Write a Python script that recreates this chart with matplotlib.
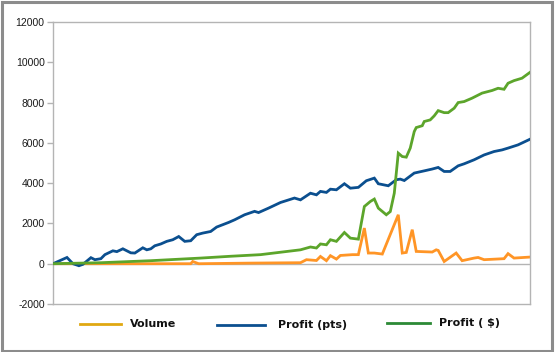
import matplotlib
matplotlib.use("Agg")
import matplotlib.pyplot as plt
from matplotlib.lines import Line2D
from matplotlib.patches import Rectangle

# Data (trade index, value)
pts_x = [0, 7, 10, 13, 15, 19, 21, 24, 26, 30, 32, 35, 39, 41, 45, 47, 49, 51, 54, 57, 60, 63, 66, 69,
         72, 75, 79, 82, 88, 91, 96, 101, 103, 108, 114, 121, 124, 129, 132, 134, 137, 139, 142, 146,
         149, 153, 157, 161, 163, 168, 172, 174, 176, 181, 186, 190, 193, 196, 199, 203, 206, 211,
         216, 221, 225, 228, 233, 239]
pts_y = [0, 310, 0, -100, -30, 300, 200, 250, 450, 640, 600, 740, 540, 530, 790, 690, 740, 890, 980,
         1110, 1190, 1350, 1110, 1140, 1440, 1520, 1600, 1820, 2050, 2180, 2430, 2600, 2540, 2760,
         3040, 3260, 3170, 3500, 3420, 3590, 3540, 3700, 3670, 3970, 3750, 3790, 4120, 4250, 3970,
         3870, 4170, 4200, 4130, 4500, 4610, 4700, 4780, 4580, 4580, 4860, 4960, 5160, 5400, 5570,
         5650, 5740, 5900, 6180]

usd_x = [0, 24, 49, 74, 89, 104, 124, 129, 132, 134, 137, 139, 142, 146, 149, 153, 156, 159, 161,
         163, 167, 169, 171, 173, 175, 177, 179, 181, 182, 185, 186, 189, 191, 193, 196, 198, 201,
         203, 206, 210, 215, 220, 223, 226, 228, 231, 235, 239]
usd_y = [0, 50, 150, 280, 370, 450, 690, 830, 780, 980, 940, 1190, 1110, 1550, 1270, 1220, 2840,
         3090, 3210, 2760, 2430, 2590, 3500, 5490, 5320, 5290, 5740, 6560, 6760, 6850, 7060, 7140,
         7340, 7600, 7500, 7500, 7720, 8000, 8050, 8220, 8470, 8600, 8710, 8660, 8960, 9090, 9210,
         9500]

vol_x = [0, 49, 69, 70, 73, 99, 124, 127, 132, 134, 137, 139, 142, 144, 150, 153, 156, 158, 161,
         165, 173, 175, 177, 180, 182, 190, 192, 193, 196, 202, 205, 211, 213, 216, 226, 228, 231,
         239]
vol_y = [0, 0, 0, 110, 0, 30, 50, 200, 160, 360, 150, 400, 230, 410, 450, 450, 1770, 530, 530, 480,
         2430, 530, 560, 1690, 610, 580, 690, 660, 110, 530, 150, 280, 310, 200, 250, 500, 280, 330]

y_ticks = [-2000, 0, 2000, 4000, 6000, 8000, 10000, 12000]
labels = ["Volume", "Profit (pts)", "Profit ( $)"]

W, H = 555, 352
fig = plt.figure(figsize=(W / 100, H / 100), dpi=100)
fig.patch.set_facecolor("white")

ax = fig.add_axes([53 / W, 1 - 304 / H, (530 - 53) / W, (304 - 22) / H])
c_vol, c_pts, c_usd = "#ff9526", "#0b4f8f", "#5ca52b"
lw = 2.0
ax.axhline(0, color="#b4b4b4", lw=1.0, zorder=1)
ax.plot(vol_x, vol_y, color=c_vol, lw=lw, zorder=2, solid_joinstyle="miter")
ax.plot(pts_x, pts_y, color=c_pts, lw=lw, zorder=3, solid_joinstyle="miter")
ax.plot(usd_x, usd_y, color=c_usd, lw=lw, zorder=4, solid_joinstyle="miter")

ax.set_xlim(0, 239)
ax.set_ylim(-2000, 12000)
ax.set_yticks(y_ticks)
ax.set_yticklabels([str(t) for t in y_ticks], fontsize=7.5, family="Liberation Sans", color="#1a1a1a")
ax.set_xticks([])
for s in ax.spines.values():
    s.set_color("#b4b4b4")
    s.set_linewidth(1.0)
ax.tick_params(axis="y", length=4, width=1, color="#b4b4b4", pad=2)

# legend (manual)
leg = [
    (80, 121, 130, 324, "#e0a812", labels[0]),
    (217, 265, 278, 324.5, c_pts, labels[1]),
    (387, 430, 439, 323, "#2c8a36", labels[2]),
]
for x0, x1, tx, ly, col, lab in leg:
    fig.add_artist(Line2D([x0 / W, x1 / W], [1 - ly / H, 1 - ly / H], color=col, lw=2.0,
                          transform=fig.transFigure))
    fig.text(tx / W, 1 - ly / H, lab, fontsize=8, fontweight="bold",
             family="DejaVu Sans", va="center", ha="left", color="#111111")

# outer frame
fig.add_artist(Rectangle((1.5 / W, 1.5 / H), (552 - 1.5) / W, (350 - 1.5) / H,
                         transform=fig.transFigure, fill=False, edgecolor="#8c8c8c", lw=2.2))

fig.savefig("out.png", dpi=100)
